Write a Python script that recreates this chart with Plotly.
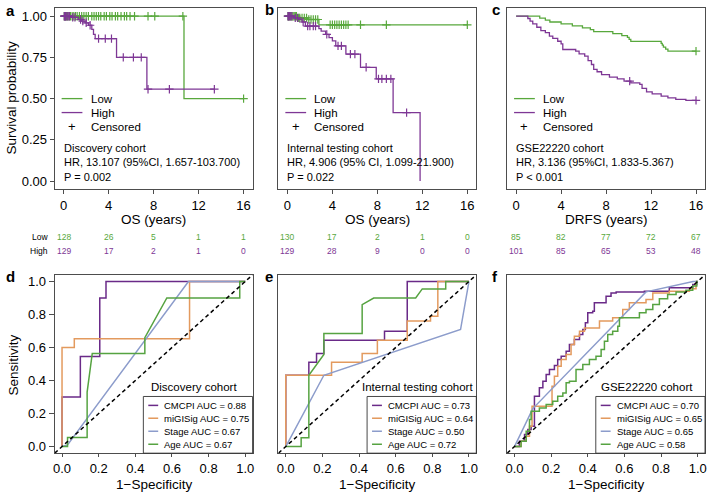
import plotly.graph_objects as go

W, H = 709, 496
FONT = "Liberation Sans, Arial, Helvetica, sans-serif"
GREEN = "#58A83C"
PURPLE = "#7E3795"
R_PURPLE = "#6A2A88"
R_ORANGE = "#E39A5E"
R_BLUE = "#8C9CCB"
R_GREEN = "#56A341"
BOXC = "#4D4D4D"

# ---------------- Kaplan-Meier data ----------------
km_ticks = [0, 4, 8, 12, 16]

a_low_t = [0, 10.7, 16]
a_low_s = [1.0, 0.5, 0.5]
a_low_cens = [0.05, 0.15, 0.25, 0.35, 0.5, 0.6, 0.75, 0.9, 1.05, 1.2, 1.4, 1.6, 1.8, 2.0, 2.2,
              2.5, 2.7, 2.9, 3.1, 3.3, 3.6, 3.8, 4.1, 4.3, 4.6, 4.8, 5.1, 5.4, 5.6, 5.9, 6.3,
              7.5, 8.1, 10.6, 16.0]
a_high_t = [0, 0.65, 1.3, 1.6, 1.9, 2.2, 2.5, 2.65, 2.8, 4.7, 7.4, 13.4]
a_high_s = [1.0, 0.993, 0.98, 0.97, 0.96, 0.945, 0.92, 0.89, 0.864, 0.75, 0.557, 0.557]
a_high_cens = [0.05, 0.1, 0.15, 0.2, 0.3, 0.4, 0.5, 0.8, 1.0, 1.5, 1.7, 2.0, 2.35, 3.1, 3.7,
               4.25, 5.3, 6.2, 6.9, 7.5, 9.4, 13.4]

b_low_t = [0, 0.9, 1.8, 2.8, 16]
b_low_s = [1.0, 0.99, 0.98, 0.948, 0.948]
b_low_cens = [0.05, 0.1, 0.2, 0.3, 0.4, 0.5, 0.6, 0.7, 0.8, 1.0, 1.1, 1.3, 1.5, 1.7, 1.9, 2.1,
              2.3, 2.5, 2.7, 3.8, 4.0, 4.2, 4.4, 4.6, 4.8, 5.0, 5.2, 5.4, 6.5, 8.8, 16.0]
b_high_t = [0, 0.57, 1.0, 1.3, 1.6, 2.8, 3.0, 3.4, 3.7, 4.0, 4.3, 5.2, 6.5, 7.9, 9.4, 11.8]
b_high_s = [1.0, 0.99, 0.98, 0.965, 0.94, 0.925, 0.91, 0.89, 0.87, 0.85, 0.82, 0.77, 0.69,
            0.62, 0.415, 0.0]
b_high_cens = [0.05, 0.1, 0.2, 0.3, 0.4, 0.7, 0.9, 1.4, 1.8, 2.0, 2.3, 2.5, 3.5, 4.5, 4.8,
               5.6, 6.0, 7.0, 8.1, 8.4, 8.8, 9.2, 10.6]

c_low_t = [0, 2.1, 2.6, 3.0, 4.0, 5.0, 5.9, 6.6, 6.9, 8.6, 9.4, 9.9, 10.05, 10.2, 12.9, 13.0,
           13.1, 13.3, 13.5, 16]
c_low_s = [1.0, 0.988, 0.976, 0.965, 0.953, 0.941, 0.929, 0.918, 0.906, 0.894, 0.882, 0.871,
           0.859, 0.847, 0.835, 0.824, 0.812, 0.800, 0.788, 0.788]
c_low_cens = [16.0]
c_high_t = [0, 1.04, 1.24, 1.48, 1.84, 2.2, 2.6, 2.96, 3.26, 3.7, 4.0, 4.15, 5.3, 5.6, 6.1,
            6.4, 6.7, 6.9, 7.2, 7.6, 8.3, 9.0, 9.6, 10.2, 11.0, 11.2, 11.6, 12.1, 12.9, 13.5,
            14.2, 15.1, 16]
c_high_s = [1.0, 0.986, 0.97, 0.954, 0.933, 0.913, 0.9, 0.879, 0.865, 0.848, 0.832, 0.798,
            0.788, 0.772, 0.758, 0.731, 0.707, 0.677, 0.663, 0.646, 0.63, 0.62, 0.606, 0.596,
            0.586, 0.562, 0.541, 0.529, 0.515, 0.505, 0.495, 0.489, 0.489]
c_high_cens = [10.1, 16.0]

# numbers at risk
risk_a_low = [128, 26, 5, 1, 1]
risk_a_high = [129, 17, 2, 1, 0]
risk_b_low = [130, 17, 2, 1, 0]
risk_b_high = [129, 28, 9, 0, 0]
risk_c_low = [85, 82, 77, 72, 67]
risk_c_high = [101, 85, 65, 53, 48]

km_texts = [
    ["Discovery cohort", "HR, 13.107 (95%CI, 1.657-103.700)", "P = 0.002"],
    ["Internal testing cohort", "HR, 4.906 (95% CI, 1.099-21.900)", "P = 0.022"],
    ["GSE22220 cohort", "HR, 3.136 (95%CI, 1.833-5.367)", "P < 0.001"],
]
km_xtitles = ["OS (years)", "OS (years)", "DRFS (years)"]

# ---------------- ROC data ----------------
roc_ticks = [0, 0.2, 0.4, 0.6, 0.8, 1.0]

d_cmcpi_x = [0, 0, 0.1, 0.1, 0.206, 0.206, 0.24, 0.24, 1]
d_cmcpi_y = [0, 0.3, 0.3, 0.545, 0.545, 0.9, 0.9, 1, 1]
d_mig_x = [0, 0, 0.067, 0.067, 0.696, 0.696, 1]
d_mig_y = [0, 0.6, 0.6, 0.653, 0.653, 1, 1]
d_stage_x = [0, 0.03, 0.69, 1]
d_stage_y = [0, 0.01, 1, 1]
d_age_x = [0, 0.03, 0.03, 0.137, 0.137, 0.165, 0.452, 0.452, 0.572, 0.97, 0.97, 1]
d_age_y = [0, 0, 0.055, 0.055, 0.33, 0.564, 0.564, 0.66, 0.9, 0.9, 1, 1]

e_cmcpi_x = [0, 0, 0.126, 0.126, 0.168, 0.168, 0.208, 0.208, 0.539, 0.539, 0.663, 0.663, 1]
e_cmcpi_y = [0, 0.432, 0.432, 0.511, 0.511, 0.564, 0.564, 0.644, 0.644, 0.699, 0.699, 1, 1]
e_mig_x = [0, 0, 0.25, 0.25, 0.417, 0.417, 0.5, 0.5, 0.663, 0.663, 0.79, 0.79, 0.83, 0.83, 1]
e_mig_y = [0, 0.432, 0.432, 0.511, 0.511, 0.564, 0.564, 0.644, 0.644, 0.76, 0.76, 0.79, 0.79,
           1, 1]
e_stage_x = [0, 0.208, 0.954, 1]
e_stage_y = [0, 0.432, 0.709, 1]
e_age_x = [0, 0.084, 0.084, 0.126, 0.126, 0.208, 0.208, 0.417, 0.417, 0.48, 0.709, 0.745,
           0.873, 0.873, 1]
e_age_y = [0, 0, 0.053, 0.053, 0.432, 0.558, 0.685, 0.685, 0.86, 0.9, 0.9, 0.955, 0.955, 1, 1]

# panel f: step corners (drawn horizontal-then-vertical)
f_cmcpi_x = [0, 0.027, 0.055, 0.073, 0.091, 0.109, 0.136, 0.155, 0.173, 0.191, 0.218, 0.236,
             0.255, 0.282, 0.3, 0.327, 0.355, 0.373, 0.387, 0.4, 0.427, 0.436, 0.5, 0.527,
             0.555, 0.709, 0.845, 0.973, 0.995, 1]
f_cmcpi_y = [0, 0.032, 0.073, 0.103, 0.123, 0.305, 0.356, 0.396, 0.436, 0.467, 0.491, 0.527,
             0.547, 0.578, 0.618, 0.648, 0.679, 0.709, 0.75, 0.81, 0.82, 0.871, 0.911, 0.931,
             0.937, 0.941, 0.962, 0.982, 1.0, 1.0]
f_mig_x = [0, 0.036, 0.064, 0.082, 0.096, 0.205, 0.218, 0.236, 0.255, 0.282, 0.309, 0.327,
           0.355, 0.382, 0.464, 0.536, 0.591, 0.627, 0.718, 0.755, 0.845, 0.955, 0.991, 1]
f_mig_y = [0, 0.032, 0.063, 0.123, 0.244, 0.366, 0.426, 0.487, 0.527, 0.558, 0.618, 0.669,
           0.699, 0.719, 0.76, 0.78, 0.83, 0.871, 0.891, 0.931, 0.941, 0.956, 1.0, 1.0]
f_stage_x = [0, 0.1, 0.718, 0.975, 1]
f_stage_y = [0, 0.23, 0.937, 1.0, 1.0]
f_age_x = [0, 0.036, 0.064, 0.082, 0.091, 0.136, 0.173, 0.209, 0.236, 0.264, 0.282, 0.3,
           0.336, 0.373, 0.409, 0.445, 0.473, 0.491, 0.509, 0.536, 0.564, 0.573, 0.645, 0.682,
           0.718, 0.755, 0.791, 0.836, 0.882, 0.936, 0.973, 0.995, 1]
f_age_y = [0, 0.032, 0.093, 0.164, 0.214, 0.234, 0.255, 0.275, 0.305, 0.325, 0.386, 0.396,
           0.467, 0.497, 0.527, 0.547, 0.588, 0.638, 0.679, 0.699, 0.729, 0.78, 0.78, 0.81,
           0.83, 0.861, 0.895, 0.921, 0.937, 0.947, 0.972, 1.0, 1.0]

roc_names = ["CMCPI", "miGISig", "Stage", "Age"]
roc_colors = [R_PURPLE, R_ORANGE, R_BLUE, R_GREEN]
roc_auc = [["0.88", "0.75", "0.67", "0.67"],
           ["0.73", "0.64", "0.50", "0.72"],
           ["0.70", "0.65", "0.65", "0.58"]]
roc_titles = ["Discovery cohort", "Internal testing cohort", "GSE22220 cohort"]

# ---------------- layout geometry ----------------
cols_px = [(53, 252), (278, 477), (508, 707)]
top_px = (7, 189)
bot_px = (275, 454)


def px_x(p):
    return p / W


def px_y(p):
    return 1 - p / H


def surv_at(ts, ss, t):
    v = ss[0]
    for ti, si in zip(ts, ss):
        if ti <= t:
            v = si
    return v


fig = go.Figure()

km_sets = [
    (a_low_t, a_low_s, a_low_cens, a_high_t, a_high_s, a_high_cens, risk_a_low, risk_a_high),
    (b_low_t, b_low_s, b_low_cens, b_high_t, b_high_s, b_high_cens, risk_b_low, risk_b_high),
    (c_low_t, c_low_s, c_low_cens, c_high_t, c_high_s, c_high_cens, risk_c_low, risk_c_high),
]

annotations = []
shapes = []

for i, (lt, ls, lc, ht, hs, hc, rl, rh) in enumerate(km_sets):
    ax = "x" if i == 0 else f"x{i+1}"
    ay = "y" if i == 0 else f"y{i+1}"
    for t, s, cens, col in [(lt, ls, lc, GREEN), (ht, hs, hc, PURPLE)]:
        fig.add_trace(go.Scatter(x=t, y=s, mode="lines", line=dict(color=col, width=1.3, shape="hv"),
                                 xaxis=ax, yaxis=ay, hoverinfo="skip"))
        fig.add_trace(go.Scatter(x=cens, y=[surv_at(t, s, c) for c in cens], mode="markers",
                                 marker=dict(symbol="cross-thin", size=6,
                                             line=dict(width=1.2, color=col)),
                                 xaxis=ax, yaxis=ay, hoverinfo="skip"))
    # legend
    dref_x = f"{ax} domain"
    dref_y = f"{ay} domain"
    for yy, col in [(0.5, GREEN), (0.423, PURPLE)]:
        shapes.append(dict(type="line", xref=dref_x, yref=dref_y, x0=0.035, x1=0.14, y0=yy, y1=yy,
                           line=dict(color=col, width=1.3)))
    annotations.append(dict(xref=dref_x, yref=dref_y, x=0.0875, y=0.346, text="+", showarrow=False,
                            font=dict(size=13, color="black", family=FONT), xanchor="center",
                            yanchor="middle"))
    for yy, txt in [(0.5, "Low"), (0.423, "High"), (0.346, "Censored")]:
        annotations.append(dict(xref=dref_x, yref=dref_y, x=0.172, y=yy, text=txt, showarrow=False,
                                font=dict(size=11.5, color="black", family=FONT), xanchor="left",
                                yanchor="middle"))
    for yy, txt in zip([0.225, 0.148, 0.07], km_texts[i]):
        annotations.append(dict(xref=dref_x, yref=dref_y, x=0.035, y=yy, text=txt, showarrow=False,
                                font=dict(size=11, color="black", family=FONT), xanchor="left",
                                yanchor="middle"))
    # x title
    annotations.append(dict(xref=dref_x, yref="paper", x=0.5, y=px_y(219), text=km_xtitles[i],
                            showarrow=False, font=dict(size=13.5, color="black", family=FONT),
                            xanchor="center", yanchor="middle"))
    # risk table
    for vals, yy, col in [(rl, px_y(237), GREEN), (rh, px_y(251), PURPLE)]:
        for tk, v in zip(km_ticks, vals):
            annotations.append(dict(xref=ax, yref="paper", x=tk, y=yy, text=str(v),
                                    showarrow=False, font=dict(size=8.5, color=col, family=FONT),
                                    xanchor="center", yanchor="middle"))

annotations.append(dict(xref="paper", yref="paper", x=px_x(48), y=px_y(237), text="Low",
                        showarrow=False, font=dict(size=8.5, color="black", family=FONT),
                        xanchor="right", yanchor="middle"))
annotations.append(dict(xref="paper", yref="paper", x=px_x(48), y=px_y(251), text="High",
                        showarrow=False, font=dict(size=8.5, color="black", family=FONT),
                        xanchor="right", yanchor="middle"))

roc_sets = [
    [(d_cmcpi_x, d_cmcpi_y, "linear"), (d_mig_x, d_mig_y, "linear"),
     (d_stage_x, d_stage_y, "linear"), (d_age_x, d_age_y, "linear")],
    [(e_cmcpi_x, e_cmcpi_y, "linear"), (e_mig_x, e_mig_y, "linear"),
     (e_stage_x, e_stage_y, "linear"), (e_age_x, e_age_y, "linear")],
    [(f_cmcpi_x, f_cmcpi_y, "hv"), (f_mig_x, f_mig_y, "hv"),
     (f_stage_x, f_stage_y, "linear"), (f_age_x, f_age_y, "hv")],
]

leg_rows = [0.268, 0.196, 0.123, 0.05]
for j, curves in enumerate(roc_sets):
    k = j + 4
    ax, ay = f"x{k}", f"y{k}"
    for (xs, ys, shp), col in zip(curves, roc_colors):
        fig.add_trace(go.Scatter(x=xs, y=ys, mode="lines", line=dict(color=col, width=1.5, shape=shp),
                                 xaxis=ax, yaxis=ay, hoverinfo="skip"))
    fig.add_trace(go.Scatter(x=[-0.04, 1.04], y=[-0.04, 1.04], mode="lines",
                             line=dict(color="black", width=1.5, dash="4px,3px"),
                             xaxis=ax, yaxis=ay, hoverinfo="skip"))
    dref_x = f"{ax} domain"
    dref_y = f"{ay} domain"
    shapes.append(dict(type="rect", xref=dref_x, yref=dref_y, x0=0.448, x1=1.0, y0=0.0, y1=0.318,
                       line=dict(color="#333333", width=0.9), fillcolor="rgba(0,0,0,0)"))
    for yy, col, nm, auc in zip(leg_rows, roc_colors, roc_names, roc_auc[j]):
        shapes.append(dict(type="line", xref=dref_x, yref=dref_y, x0=0.473, x1=0.523, y0=yy, y1=yy,
                           line=dict(color=col, width=1.5)))
        annotations.append(dict(xref=dref_x, yref=dref_y, x=0.543, y=yy, text=f"{nm} AUC = {auc}",
                                showarrow=False, font=dict(size=9.5, color="black", family=FONT),
                                xanchor="left", yanchor="middle"))
    annotations.append(dict(xref=dref_x, yref=dref_y, x=0.705, y=0.369, text=roc_titles[j],
                            showarrow=False, font=dict(size=11.5, color="black", family=FONT),
                            xanchor="center", yanchor="middle"))
    annotations.append(dict(xref=dref_x, yref="paper", x=0.5, y=px_y(485), text="1\u2212Specificity",
                            showarrow=False, font=dict(size=13.5, color="black", family=FONT),
                            xanchor="center", yanchor="middle"))

# y titles
annotations.append(dict(xref="paper", yref="paper", x=px_x(10), y=px_y(97),
                        text="Survival probability", textangle=-90, showarrow=False,
                        font=dict(size=13.5, color="black", family=FONT),
                        xanchor="center", yanchor="middle"))
annotations.append(dict(xref="paper", yref="paper", x=px_x(12), y=px_y(365), text="Sensitivity",
                        textangle=-90, showarrow=False,
                        font=dict(size=13.5, color="black", family=FONT),
                        xanchor="center", yanchor="middle"))

# panel letters
for lt, (xx, yy) in zip("abcdef", [(9, 10), (269, 9), (497, 9), (9, 277), (269, 277), (496, 277)]):
    annotations.append(dict(xref="paper", yref="paper", x=px_x(xx), y=px_y(yy), text=f"<b>{lt}</b>",
                            showarrow=False, font=dict(size=15, color="black", family=FONT),
                            xanchor="center", yanchor="middle"))

layout = dict(width=W, height=H, margin=dict(l=0, r=0, t=0, b=0), showlegend=False,
              paper_bgcolor="white", plot_bgcolor="white", font=dict(family=FONT, color="black"),
              annotations=annotations, shapes=shapes)

for i in range(6):
    k = i + 1
    xn = "xaxis" if k == 1 else f"xaxis{k}"
    yn = "yaxis" if k == 1 else f"yaxis{k}"
    c0, c1 = cols_px[i % 3]
    r0, r1 = top_px if i < 3 else bot_px
    common = dict(showline=True, mirror=True, linecolor=BOXC, linewidth=1, showgrid=False,
                  zeroline=False, ticks="outside", tickcolor=BOXC, ticklen=5, tickwidth=1,
                  tickfont=dict(size=13, color="black", family=FONT))
    anchor_y = "y" if k == 1 else f"y{k}"
    anchor_x = "x" if k == 1 else f"x{k}"
    if i < 3:
        xa = dict(common, domain=[px_x(c0), px_x(c1)], range=[-0.8, 16.8], tickvals=km_ticks,
                  anchor=anchor_y, ticklen=4)
        ya = dict(common, domain=[px_y(r1), px_y(r0)], range=[-0.05, 1.05],
                  tickvals=[0, 0.25, 0.5, 0.75, 1.0], tickformat=".2f", anchor=anchor_x, ticklen=4)
    else:
        xa = dict(common, domain=[px_x(c0), px_x(c1)], range=[-0.04, 1.04], tickvals=roc_ticks,
                  tickformat=".1f", anchor=anchor_y, ticklen=3)
        ya = dict(common, domain=[px_y(r1), px_y(r0)], range=[-0.04, 1.04], tickvals=roc_ticks,
                  tickformat=".1f", anchor=anchor_x)
    if i % 3 != 0:
        ya["showticklabels"] = False
        ya["ticks"] = ""
    layout[xn] = xa
    layout[yn] = ya

fig.update_layout(**layout)
fig.write_html("out.html", config={"displayModeBar": False},
               post_script="document.body.style.margin='0';document.body.style.padding='0';")
